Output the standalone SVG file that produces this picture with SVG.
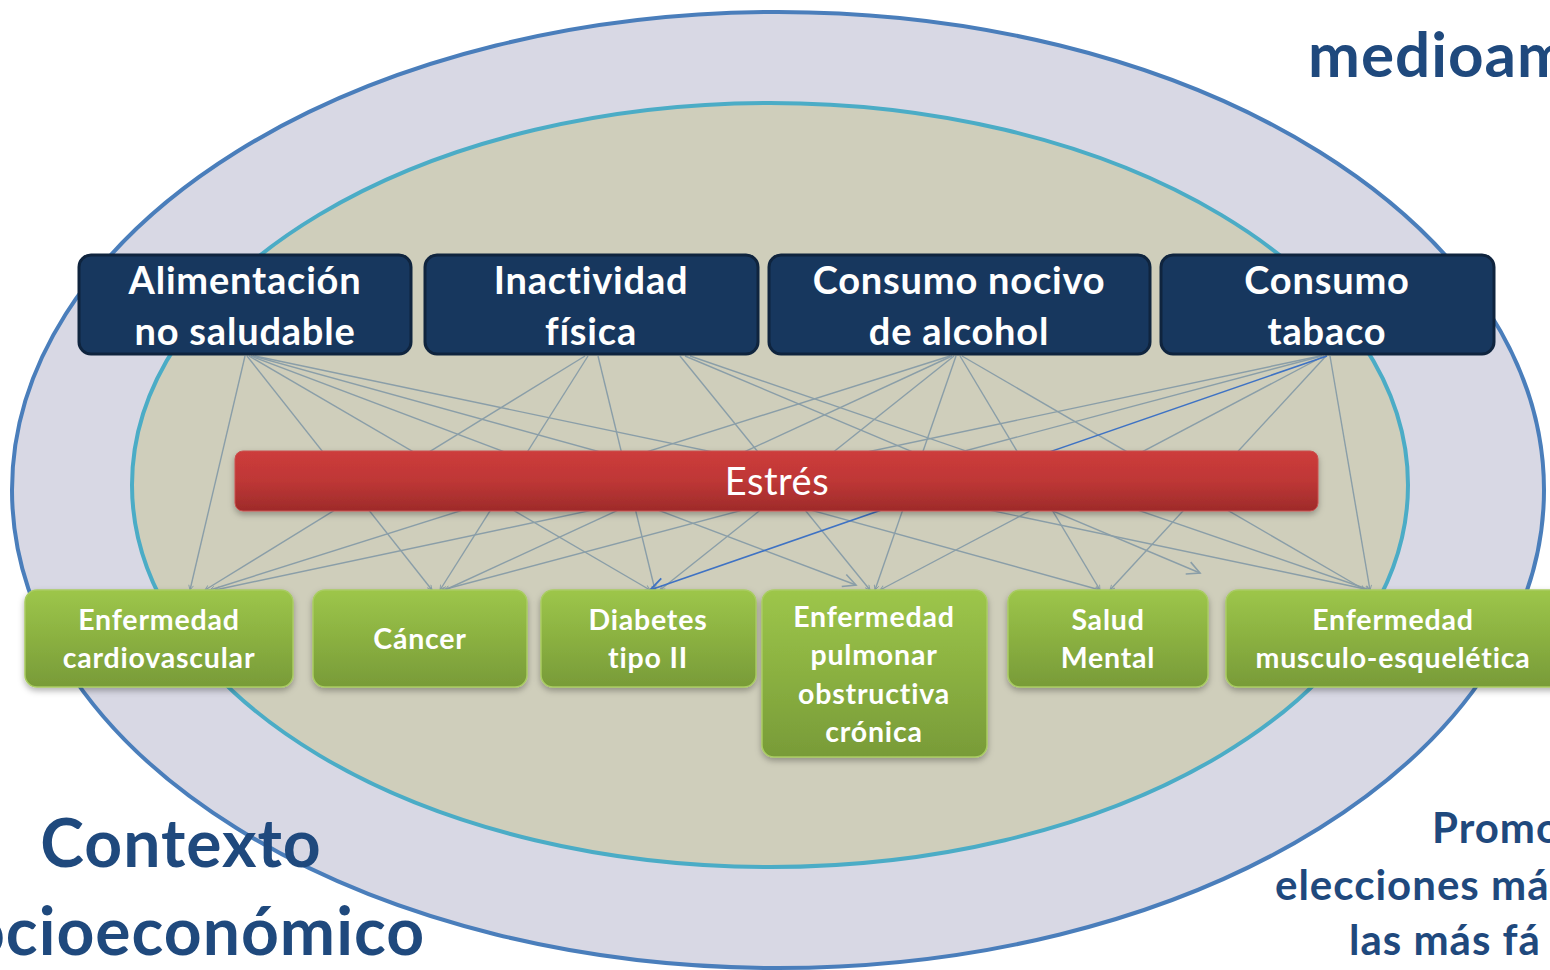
<svg xmlns="http://www.w3.org/2000/svg" width="1550" height="970" viewBox="0 0 1550 970">
<style>
.lbl{font-family:Lato,"Open Sans","Liberation Sans",sans-serif;font-weight:bold;fill:#1f497d}
.top rect{fill:#17375e;stroke:#0f243e;stroke-width:3}
.top text{font-family:Lato,"Open Sans","Liberation Sans",sans-serif;font-weight:bold;font-size:38px;letter-spacing:0.8px;fill:#fff;text-anchor:middle}
.grn rect{fill:url(#gG);stroke:#a9cc62;stroke-width:1.5}
.grn text{font-family:Lato,"Open Sans","Liberation Sans",sans-serif;font-weight:bold;font-size:28.5px;letter-spacing:0.8px;fill:#fff;text-anchor:middle}
.cn line{stroke:#8a9ea8;stroke-width:1.4;fill:none;marker-end:url(#mS)}
.cn line.big{marker-end:url(#mL)}
.cn line.blue{stroke:#3e72c4;stroke-width:1.6;marker-end:url(#mB)}
</style>
<defs>
<linearGradient id="gG" x1="0" y1="0" x2="0" y2="1"><stop offset="0" stop-color="#9dc64a"/><stop offset="1" stop-color="#789b38"/></linearGradient>
<linearGradient id="gR" x1="0" y1="0" x2="0" y2="1"><stop offset="0" stop-color="#cd3c3b"/><stop offset="0.5" stop-color="#be3736"/><stop offset="1" stop-color="#9e2b2a"/></linearGradient>
<filter id="sh" x="-10%" y="-10%" width="120%" height="130%"><feDropShadow dx="0" dy="3" stdDeviation="3" flood-color="#000" flood-opacity="0.3"/></filter>
<marker id="mS" viewBox="0 0 10 10" refX="9" refY="5" markerWidth="6" markerHeight="6" markerUnits="userSpaceOnUse" orient="auto"><path d="M1,1 L9,5 L1,9" fill="none" stroke="#8a9ea8" stroke-width="1.5"/></marker>
<marker id="mL" viewBox="0 0 10 10" refX="9" refY="5" markerWidth="16" markerHeight="16" markerUnits="userSpaceOnUse" orient="auto"><path d="M1,1 L9,5 L1,9" fill="none" stroke="#8a9ea8" stroke-width="1"/></marker>
<marker id="mB" viewBox="0 0 10 10" refX="9" refY="5" markerWidth="18" markerHeight="18" markerUnits="userSpaceOnUse" orient="auto"><path d="M1,1 L9,5 L1,9" fill="none" stroke="#3e72c4" stroke-width="1"/></marker>
</defs>
<rect width="1550" height="970" fill="#fff"/>
<g id="outer"><ellipse cx="778" cy="490" rx="766" ry="478" fill="#d8d8e4" stroke="#4a7ebb" stroke-width="4"/></g>
<g id="inner"><ellipse cx="770" cy="485" rx="638" ry="382" fill="#cfcebb" stroke="#4bacc6" stroke-width="4"/></g>
<g id="ctx"><text class="lbl" font-size="66" letter-spacing="1" x="181" y="867" text-anchor="middle">Contexto</text><text class="lbl" font-size="66" letter-spacing="1" x="181" y="955" text-anchor="middle">socioeconómico</text></g>
<g id="medio"><text class="lbl" font-size="62" letter-spacing="1" x="1308" y="77">medioam</text></g>
<g id="promo"><text class="lbl" font-size="42" letter-spacing="1" x="1432" y="843">Promo</text><text class="lbl" font-size="42" letter-spacing="1" x="1275" y="900">elecciones má</text><text class="lbl" font-size="42" letter-spacing="1" x="1349" y="955">las más fá</text></g>
<g id="connectors" class="cn">
<line x1="245" y1="356" x2="190" y2="590"/>
<line x1="247" y1="356" x2="432" y2="590"/>
<line x1="249" y1="356" x2="650" y2="590"/>
<line class="big" x1="251" y1="356" x2="856" y2="585"/>
<line x1="253" y1="356" x2="1100" y2="590"/>
<line x1="255" y1="356" x2="1370" y2="590"/>
<line x1="585" y1="356" x2="205" y2="590"/>
<line x1="588" y1="356" x2="440" y2="590"/>
<line x1="598" y1="356" x2="655" y2="590"/>
<line x1="680" y1="356" x2="870" y2="590"/>
<line class="big" x1="685" y1="356" x2="1200" y2="573"/>
<line x1="690" y1="356" x2="1370" y2="590"/>
<line x1="950" y1="356" x2="210" y2="590"/>
<line x1="952" y1="356" x2="445" y2="590"/>
<line x1="954" y1="356" x2="660" y2="590"/>
<line x1="956" y1="356" x2="875" y2="590"/>
<line x1="960" y1="356" x2="1100" y2="590"/>
<line x1="962" y1="356" x2="1365" y2="590"/>
<line x1="1320" y1="356" x2="215" y2="590"/>
<line x1="1322" y1="356" x2="442" y2="590"/>
<line x1="1324" y1="356" x2="880" y2="590"/>
<line x1="1326" y1="356" x2="1110" y2="590"/>
<line x1="1330" y1="356" x2="1370" y2="590"/>
<line class="blue" x1="1327" y1="356" x2="650" y2="590"/>
</g>
<g id="estres"><rect x="235" y="451" width="1083" height="60" rx="8" fill="url(#gR)" stroke="#c9504f" stroke-width="1" filter="url(#sh)"/><text x="777" y="495" font-family="Lato,'Open Sans','Liberation Sans',sans-serif" font-size="38" letter-spacing="0.5" fill="#fff" text-anchor="middle">Estrés</text></g>
<g id="n-alim" class="top"><rect x="79" y="255" width="332" height="99" rx="12"/><text x="245" y="294">Alimentación</text><text x="245" y="345">no saludable</text></g>
<g id="n-inact" class="top"><rect x="425" y="255" width="333" height="99" rx="12"/><text x="591" y="294">Inactividad</text><text x="591" y="345">física</text></g>
<g id="n-alcohol" class="top"><rect x="769" y="255" width="381" height="99" rx="12"/><text x="959" y="294">Consumo nocivo</text><text x="959" y="345">de alcohol</text></g>
<g id="n-tabaco" class="top"><rect x="1161" y="255" width="333" height="99" rx="12"/><text x="1327" y="294">Consumo</text><text x="1327" y="345">tabaco</text></g>
<g id="n-cardio" class="grn"><rect x="25" y="590" width="268" height="97" rx="12" filter="url(#sh)"/><text x="159" y="630">Enfermedad</text><text x="159" y="668">cardiovascular</text></g>
<g id="n-cancer" class="grn"><rect x="313" y="590" width="214" height="97" rx="12" filter="url(#sh)"/><text x="420" y="649">Cáncer</text></g>
<g id="n-diab" class="grn"><rect x="541" y="590" width="215" height="97" rx="12" filter="url(#sh)"/><text x="648" y="630">Diabetes</text><text x="648" y="668">tipo II</text></g>
<g id="n-epoc" class="grn"><rect x="762" y="590" width="225" height="167" rx="12" filter="url(#sh)"/><text x="874" y="627">Enfermedad</text><text x="874" y="665">pulmonar</text><text x="874" y="704">obstructiva</text><text x="874" y="742">crónica</text></g>
<g id="n-mental" class="grn"><rect x="1008" y="590" width="200" height="97" rx="12" filter="url(#sh)"/><text x="1108" y="630">Salud</text><text x="1108" y="668">Mental</text></g>
<g id="n-musc" class="grn"><rect x="1226" y="590" width="340" height="97" rx="12" filter="url(#sh)"/><text x="1393" y="630">Enfermedad</text><text x="1393" y="668">musculo-esquelética</text></g>
</svg>
